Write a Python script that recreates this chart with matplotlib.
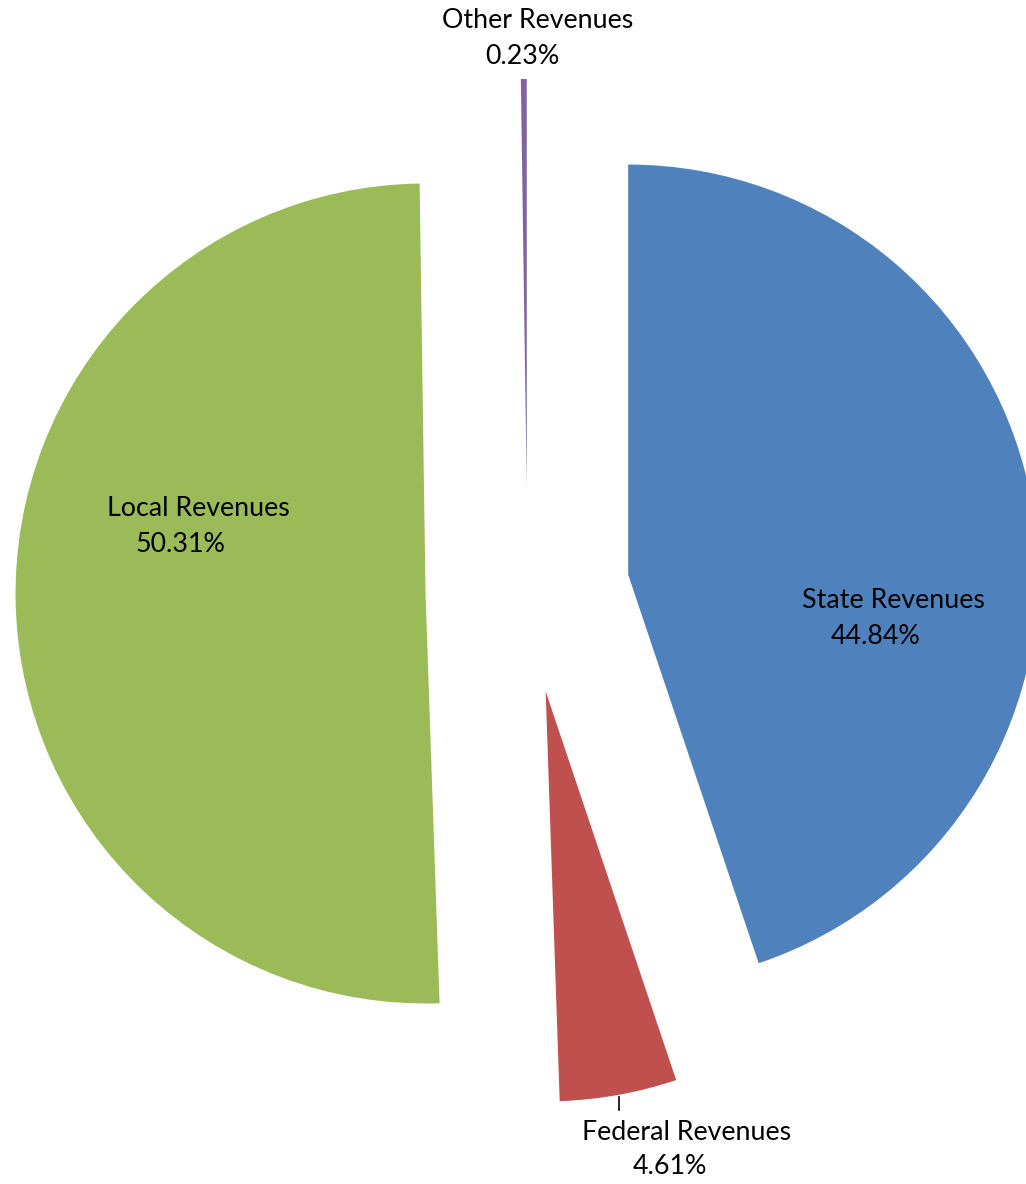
import matplotlib
matplotlib.use("Agg")
import matplotlib.pyplot as plt

# Revenue shares by source (percent)
categories = ["State Revenues", "Federal Revenues", "Local Revenues", "Other Revenues"]
shares = [44.84, 4.61, 50.31, 0.23]
colors = ["#4F81BD", "#C0504D", "#9BBB59", "#8064A2"]

W, H = 1026, 1184
RADIUS = 410
OFFSET = 102  # every slice pulled out by the same distance

fig = plt.figure(figsize=(W / 100, H / 100), dpi=100)
ax = fig.add_axes([0, 0, 1, 1])

ax.pie(shares, colors=colors, explode=[OFFSET] * len(shares), startangle=90,
       counterclock=False, center=(527.5, 593), radius=RADIUS,
       wedgeprops=dict(linewidth=0))
ax.set_xlim(0, W)
ax.set_ylim(0, H)
ax.set_aspect("equal")
ax.axis("off")

font = dict(family=["Lato", "DejaVu Sans"], fontsize=19.3, color="black",
            ha="center", va="center")

# label name / percent positions (pixel-based axes, y up)
label_pos = {
    "State Revenues": ((893, H - 600), (876, H - 636)),
    "Federal Revenues": ((687, H - 1132), (670, H - 1167)),
    "Local Revenues": ((198, H - 508), (180, H - 545)),
    "Other Revenues": ((538, H - 21), (522, H - 57)),
}
for name, val in zip(categories, shares):
    (nx, ny), (px, py) = label_pos[name]
    ax.text(nx, ny, name, **font)
    ax.text(px, py, f"{val:.2f}%", **font)

# leader line for the Federal label
ax.plot([619, 619], [H - 1097, H - 1110], color="black", linewidth=1.2)

fig.savefig("out.png", dpi=100, facecolor="white")
